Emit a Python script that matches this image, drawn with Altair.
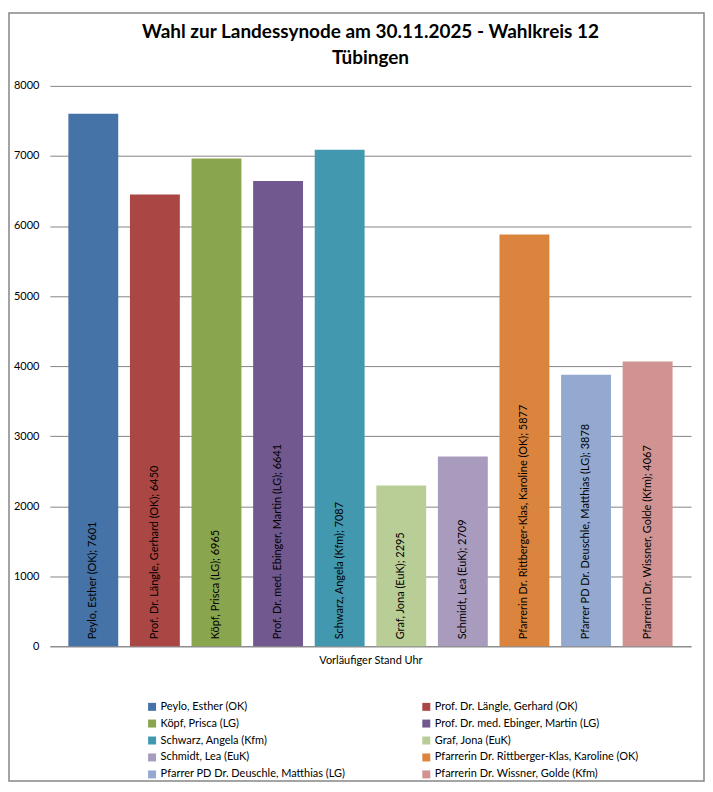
import altair as alt
import pandas as pd

names = [
    "Peylo, Esther (OK)",
    "Prof. Dr. Längle, Gerhard (OK)",
    "Köpf, Prisca (LG)",
    "Prof. Dr. med. Ebinger, Martin (LG)",
    "Schwarz, Angela (Kfm)",
    "Graf, Jona (EuK)",
    "Schmidt, Lea (EuK)",
    "Pfarrerin Dr. Rittberger-Klas, Karoline (OK)",
    "Pfarrer PD Dr. Deuschle, Matthias (LG)",
    "Pfarrerin Dr. Wissner, Golde (Kfm)",
]
votes = [7601, 6450, 6965, 6641, 7087, 2295, 2709, 5877, 3878, 4067]
colors = ["#4572A7", "#AA4643", "#89A54E", "#71588F", "#4198AF",
          "#B9CD96", "#A99BBD", "#DB843D", "#93A9CF", "#D19392"]

df = pd.DataFrame({"name": names, "votes": votes})
df["label"] = [f"{n}; {v}" for n, v in zip(names, votes)]

FONT = "Lato"
W, H = 643, 562

x = alt.X("name:N", sort=names,
          scale=alt.Scale(paddingInner=0.19, paddingOuter=0.3),
          axis=alt.Axis(title="Vorläufiger Stand  Uhr", labels=False, ticks=False,
                        domainColor="#868686", titlePadding=8, titleFontSize=11,
                        titleFontWeight="normal", titleFont=FONT, titleColor="#000"))
y = alt.Y("votes:Q", scale=alt.Scale(domain=[0, 8000]),
          axis=alt.Axis(title=None, values=list(range(0, 8001, 1000)), format="d",
                        domain=False, ticks=False, gridColor="#868686", gridWidth=1,
                        labelPadding=11, labelFontSize=11, labelFont=FONT,
                        labelColor="#000"))

bars = alt.Chart(df).mark_bar().encode(
    x=x, y=y,
    color=alt.Color("name:N", sort=names,
                    scale=alt.Scale(domain=names, range=colors),
                    legend=alt.Legend(title=None, orient="none", legendX=97, legendY=617,
                                      direction="horizontal", columns=2,
                                      columnPadding=75, rowPadding=5,
                                      symbolType="square", symbolSize=64,
                                      symbolStrokeWidth=0, labelFontSize=11,
                                      labelFont=FONT, labelColor="#000",
                                      labelLimit=400, labelOffset=3)),
)

texts = alt.Chart(df).mark_text(angle=270, align="left", baseline="middle",
                                dx=7, fontSize=11, font=FONT, color="#000").encode(
    x=alt.X("name:N", sort=names), y=alt.datum(0), text="label:N")

border = alt.Chart(alt.Data(values=[{"a": 1}])).mark_rect(
    fill=None, stroke="#868686", strokeWidth=1.5).encode(
    x=alt.value(-41), x2=alt.value(656), y=alt.value(-73), y2=alt.value(697))

chart = alt.layer(border, bars, texts).properties(
    width=W, height=H,
    autosize=alt.AutoSizeParams(type="none"),
    padding={"left": 42, "top": 77, "right": 14, "bottom": 137},
    title=alt.Title(["Wahl zur Landessynode am 30.11.2025 - Wahlkreis 12", "Tübingen"],
                    font=FONT, fontSize=19, fontWeight="bold", color="#000",
                    anchor="middle", offset=-56, lineHeight=26),
).configure_view(stroke=None)

chart.save("out.html", embed_options={"renderer": "svg", "actions": False})
